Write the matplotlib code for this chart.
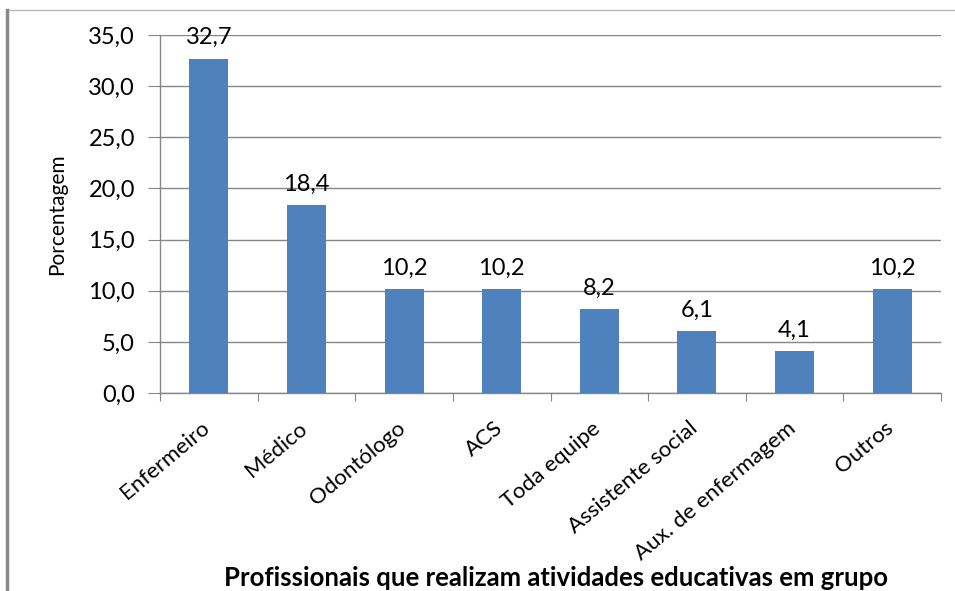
import matplotlib
matplotlib.use("Agg")
import matplotlib.pyplot as plt
from matplotlib.lines import Line2D
from matplotlib.transforms import ScaledTranslation

categories = ["Enfermeiro", "Médico", "Odontólogo", "ACS", "Toda equipe",
              "Assistente social", "Aux. de enfermagem", "Outros"]
values = [32.7, 18.4, 10.2, 10.2, 8.2, 6.1, 4.1, 10.2]
yticks = [0, 5, 10, 15, 20, 25, 30, 35]

plt.rcParams['font.family'] = ['Lato', 'DejaVu Sans']

fig = plt.figure(figsize=(9.55, 5.91), dpi=100)
ax = fig.add_axes([160/955, 1-393/591, (941-160)/955, (393-35)/591])

x = list(range(len(categories)))
ax.bar(x, values, width=0.4, color='#4F81BD', zorder=3)
for xi, v in zip(x, values):
    ax.text(xi, v + 1.0, f"{v:.1f}".replace('.', ','), ha='center', va='bottom',
            fontsize=17, color='#000000')

ax.set_xlim(-0.5, len(categories) - 0.5)
ax.set_ylim(0, 35)
ax.set_yticks(yticks)
ax.set_yticklabels([f"{t:.1f}".replace('.', ',') for t in yticks], fontsize=17)
ax.set_xticks([i - 0.5 for i in range(len(categories) + 1)], minor=False)
ax.set_xticklabels([''] * (len(categories) + 1))
ax.set_xticks(x, minor=True)
ax.set_xticklabels(categories, minor=True, rotation=40, ha='right',
                   rotation_mode='anchor', fontsize=16)
ax.tick_params(axis='x', which='minor', length=0, pad=18)
ax.tick_params(axis='x', which='major', length=6, color='#868686')
ax.tick_params(axis='y', length=9, color='#868686', pad=9)

offset = ScaledTranslation(-8/100, 0, fig.dpi_scale_trans)
for lbl in ax.get_xticklabels(minor=True):
    lbl.set_transform(lbl.get_transform() + offset)

ax.grid(axis='y', color='#868686', linewidth=1, zorder=0)
for s in ['top', 'right']:
    ax.spines[s].set_visible(False)
for s in ['left', 'bottom']:
    ax.spines[s].set_color('#868686')
    ax.spines[s].set_linewidth(1)

ax.set_ylabel('Porcentagem', fontsize=15)
ax.yaxis.set_label_coords(-(160-57)/(941-160), 0.5)
ax.yaxis.label.set_va('center')

fig.text(556/955, 1-586/591, 'Profissionais que realizam atividades educativas em grupo',
         ha='center', va='baseline', fontsize=18.5, fontweight='bold')

fig.add_artist(Line2D([7/955, 1], [1-10/591, 1-10/591], color='#bbbbbb', linewidth=1))
fig.add_artist(Line2D([7/955, 7/955], [0, 1-10/591], color='#888888', linewidth=2.5))

fig.savefig('out.png', dpi=100)
